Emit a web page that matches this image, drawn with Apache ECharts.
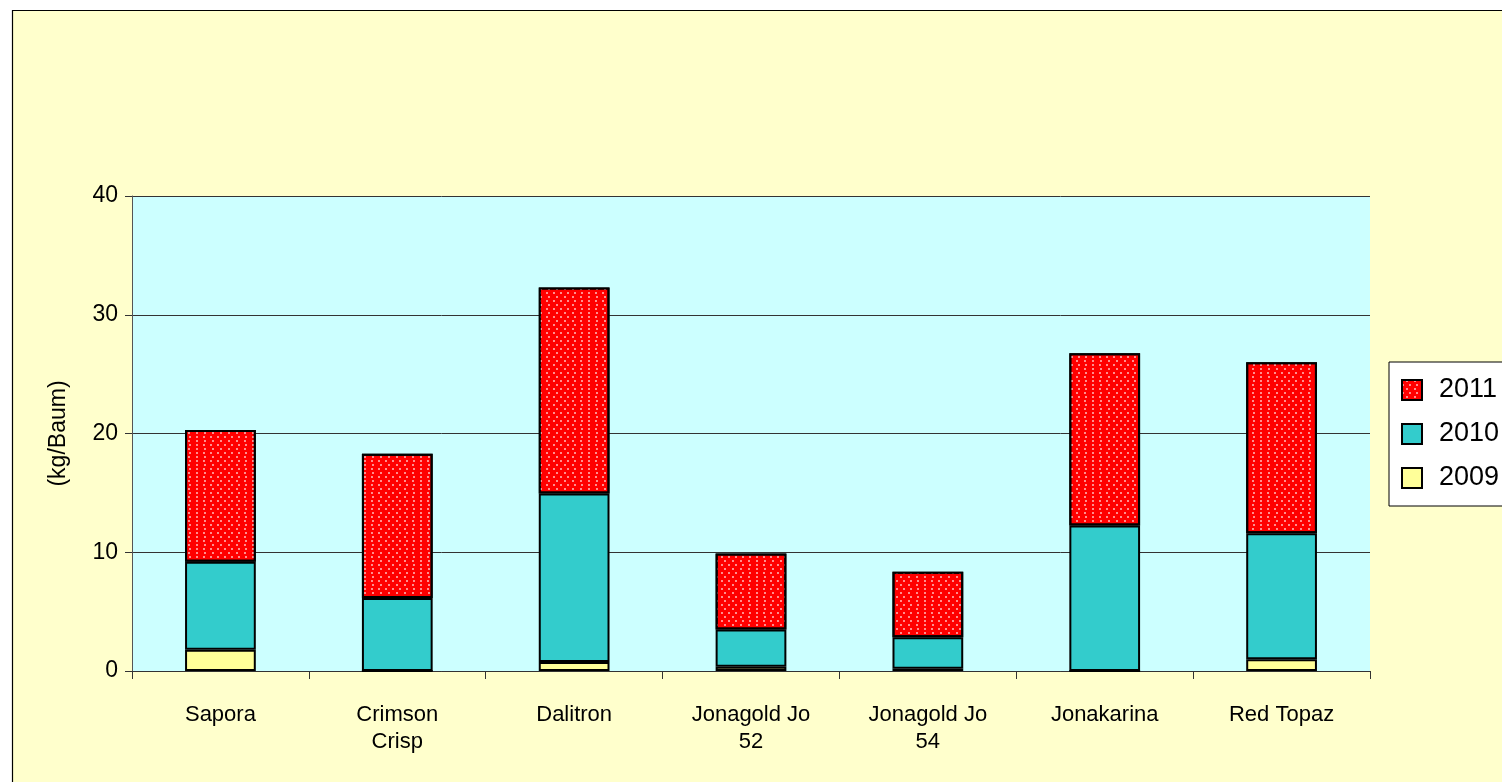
<!DOCTYPE html>
<html>
<head>
<meta charset="utf-8">
<title>Ertrag (kg/Baum)</title>
<script src="https://cdn.jsdelivr.net/npm/echarts@6/dist/echarts.min.js"></script>
<style>
  html, body { margin: 0; padding: 0; background: #fff; }
  #chart { width: 1502px; height: 782px; }
</style>
</head>
<body>
<div id="chart"></div>
<script>
// sorts, left to right
const varieties = ['Sapora', 'Crimson\nCrisp', 'Dalitron', 'Jonagold Jo\n52', 'Jonagold Jo\n54', 'Jonakarina', 'Red Topaz'];

// yield per year (kg/Baum), stacked 2009 -> 2010 -> 2011
const yield2009 = [1.8, 0, 0.75, 0.35, 0.2, 0, 1.0];
const yield2010 = [7.4, 6.15, 14.2, 3.15, 2.65, 12.25, 10.6];
const yield2011 = [11.1, 12.15, 17.35, 6.4, 5.5, 14.5, 14.4];

const yTicks = { min: 0, max: 40, interval: 10 };

const FONT = 'Liberation Sans, Arial, sans-serif';

const chart = echarts.init(document.getElementById('chart'), null, { renderer: 'canvas' });

// dotted fill like the excel pattern
const dots = {
  symbol: 'rect',
  symbolSize: 0.85,
  color: 'rgba(255,235,235,0.95)',
  dashArrayX: [[2, 4.5], [0, 3.25, 2, 1.25]],
  dashArrayY: [2, 1.25],
  rotation: 0
};

const barStyle = color => ({
  color: color,
  borderColor: '#000',
  borderWidth: 2
});

chart.setOption({
  animation: false,
  backgroundColor: '#fff',
  textStyle: { fontFamily: FONT },
  graphic: [
    {
      type: 'rect',
      z: -10,
      silent: true,
      shape: { x: 12.5, y: 10.5, width: 1600, height: 900 },
      style: { fill: '#ffffcc', stroke: '#000', lineWidth: 1.2 }
    }
  ],
  grid: {
    left: 132,
    right: 132,
    top: 196,
    bottom: 111,
    show: true,
    backgroundColor: '#ccffff',
    borderWidth: 0
  },
  legend: {
    data: ['2011', '2010', '2009'],
    orient: 'vertical',
    left: 1389,
    top: 362,
    padding: [14, 40, 14, 12],
    itemGap: 16,
    itemWidth: 20,
    itemHeight: 20,
    icon: 'rect',
    backgroundColor: '#fff',
    borderColor: '#000',
    borderWidth: 1,
    textStyle: {
      fontFamily: FONT,
      fontSize: 27,
      color: '#000',
      lineHeight: 28,
      padding: [0, 0, 0, 12]
    }
  },
  xAxis: {
    type: 'category',
    data: varieties,
    axisLine: { lineStyle: { color: '#333', width: 1 } },
    axisTick: { show: true, length: 8, lineStyle: { color: '#333' } },
    axisLabel: {
      color: '#000',
      fontFamily: FONT,
      fontSize: 22,
      lineHeight: 27,
      margin: 30,
      interval: 0
    },
    splitLine: { show: false }
  },
  yAxis: {
    type: 'value',
    min: yTicks.min,
    max: yTicks.max,
    interval: yTicks.interval,
    name: '(kg/Baum)',
    nameLocation: 'middle',
    nameRotate: 90,
    nameGap: 62,
    nameTextStyle: { fontFamily: FONT, fontSize: 23, color: '#000' },
    axisLine: { show: true, lineStyle: { color: '#555', width: 1 } },
    axisTick: { show: true, length: 7, lineStyle: { color: '#333' } },
    axisLabel: {
      color: '#000',
      fontFamily: FONT,
      fontSize: 23,
      margin: 14
    },
    splitLine: { show: true, lineStyle: { color: '#333', width: 1 } }
  },
  series: [
    {
      name: '2009',
      type: 'bar',
      stack: 'total',
      barWidth: '40%',
      data: yield2009,
      itemStyle: barStyle('#ffff99')
    },
    {
      name: '2010',
      type: 'bar',
      stack: 'total',
      barWidth: '40%',
      data: yield2010,
      itemStyle: barStyle('#33cccc')
    },
    {
      name: '2011',
      type: 'bar',
      stack: 'total',
      barWidth: '40%',
      data: yield2011,
      itemStyle: Object.assign(barStyle('#ff0000'), { decal: dots })
    }
  ]
});
</script>
</body>
</html>
